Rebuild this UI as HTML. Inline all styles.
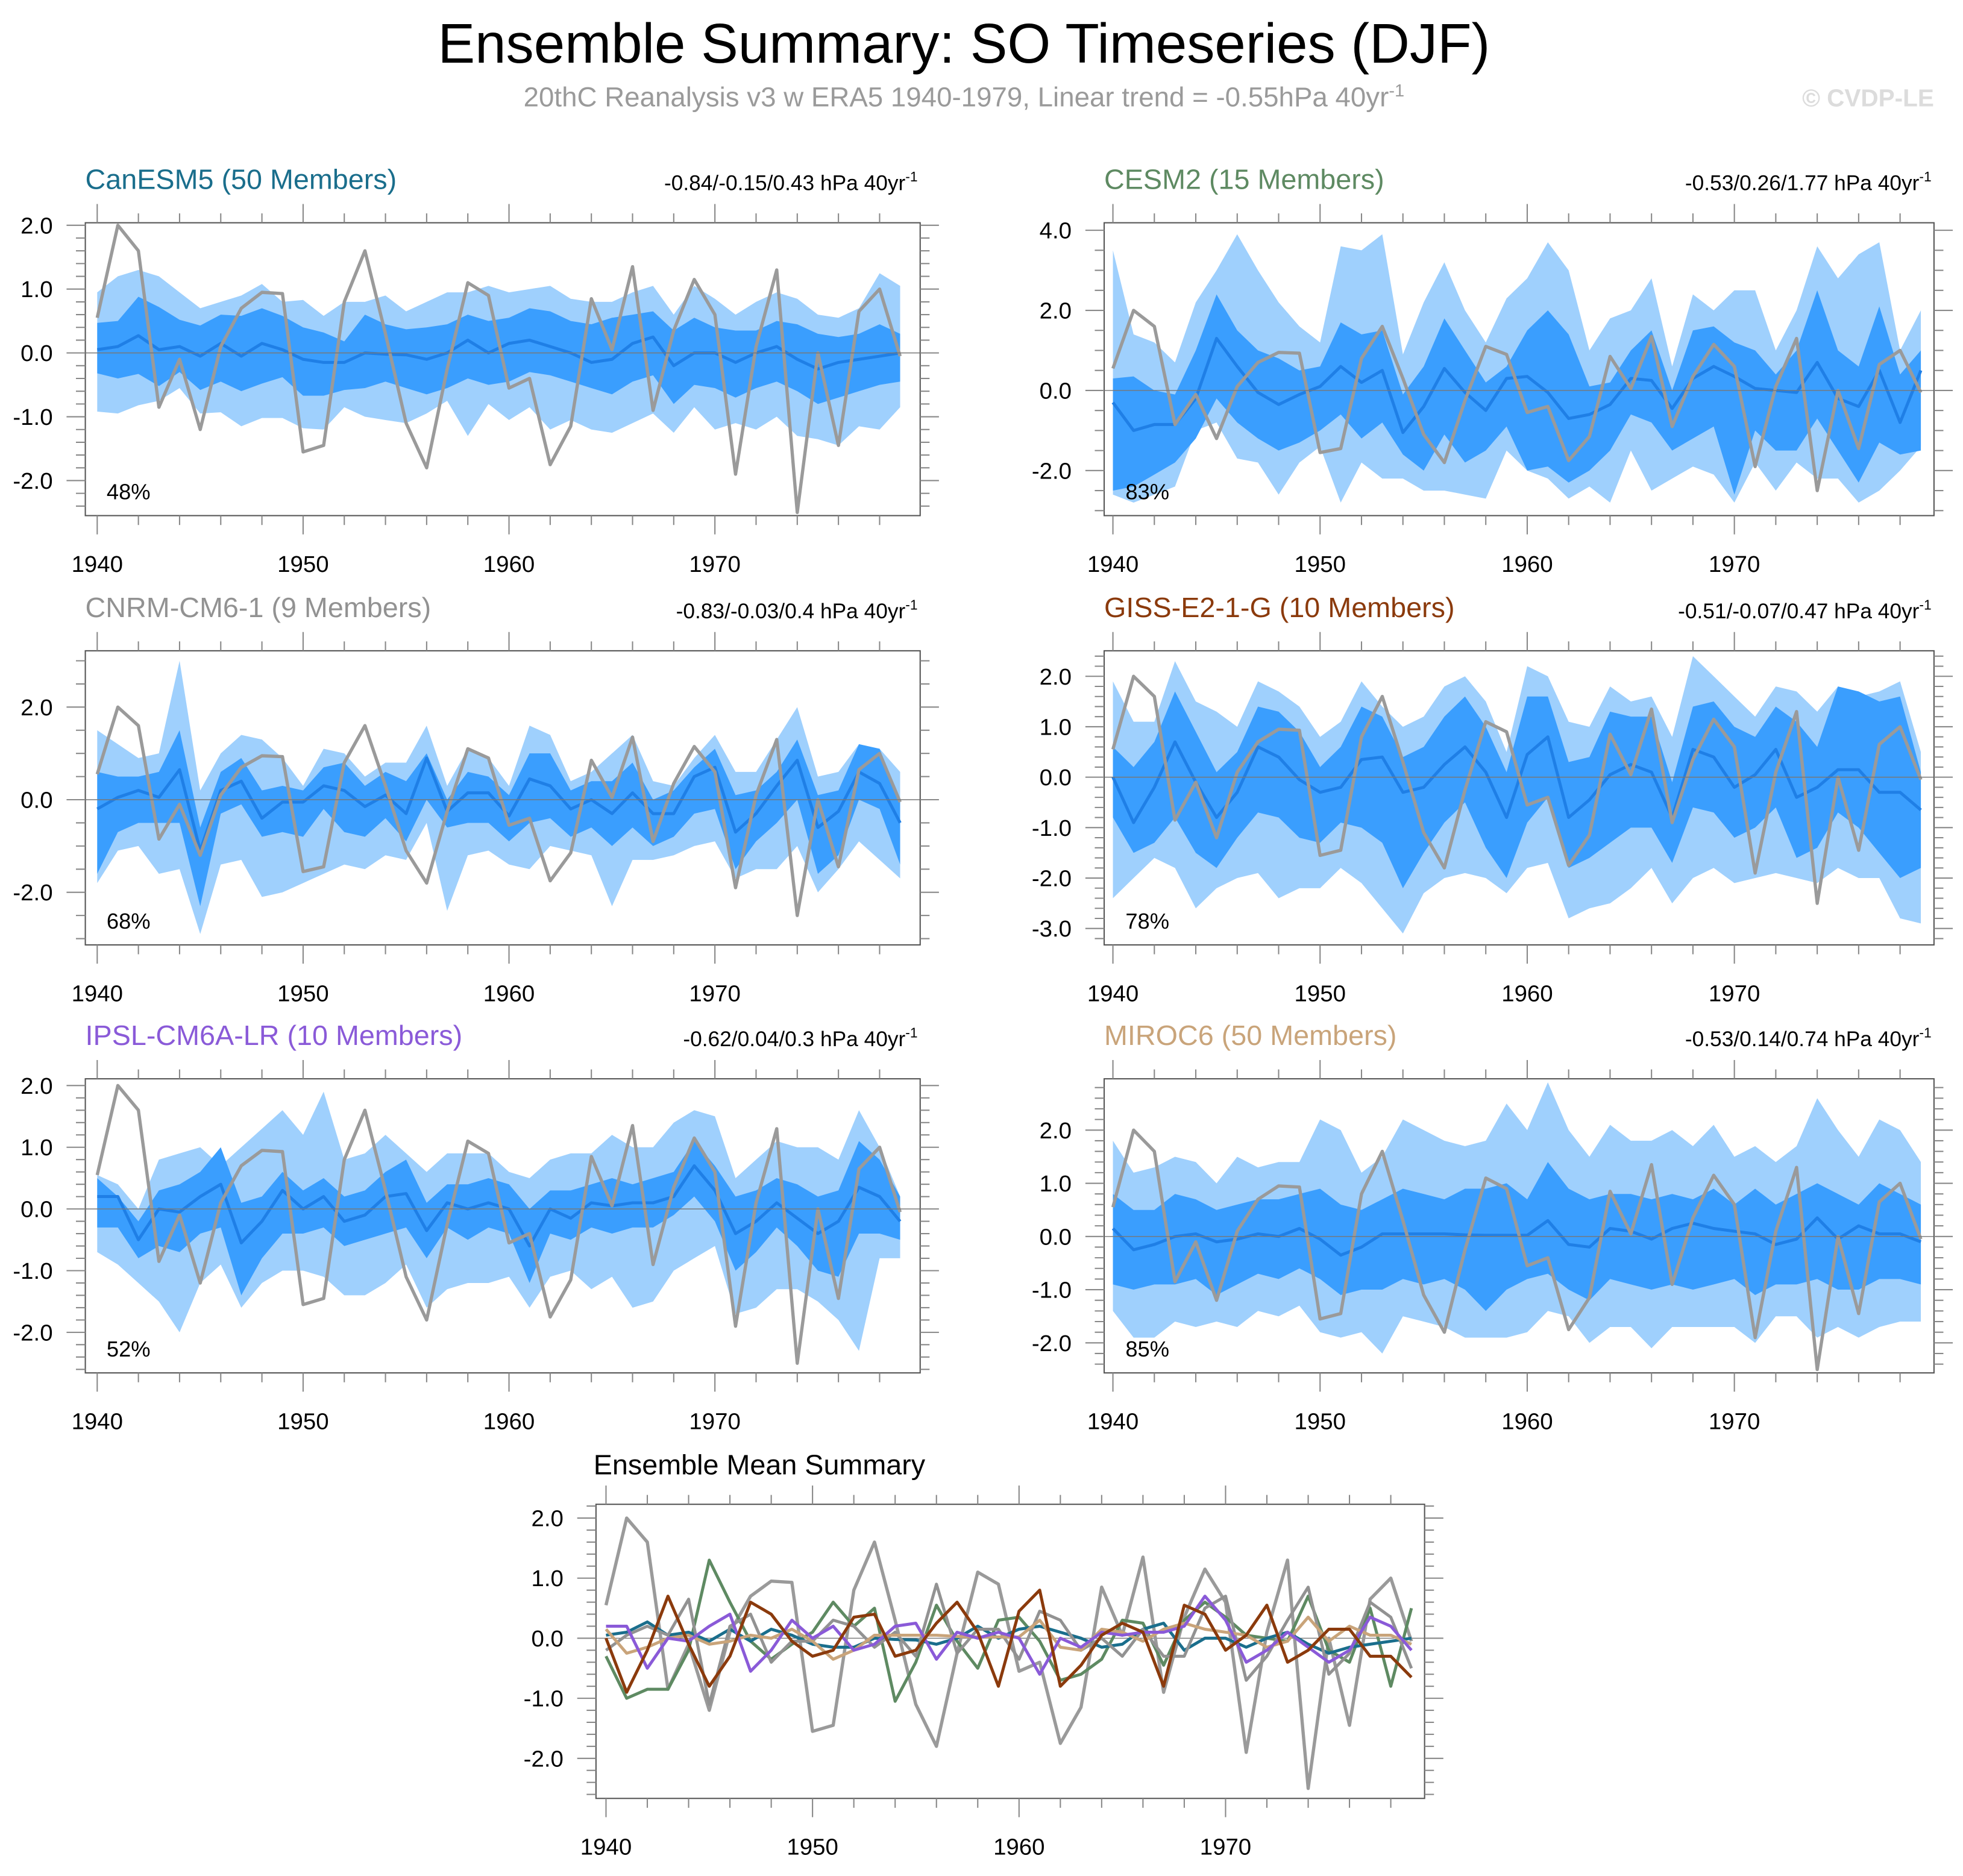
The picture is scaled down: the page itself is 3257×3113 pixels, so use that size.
<!DOCTYPE html>
<html><head><meta charset="utf-8"><style>
html,body{margin:0;padding:0;background:#fff}
svg{display:block}
text{font-family:"Liberation Sans",sans-serif}
</style></head><body>
<svg id="fig" xmlns="http://www.w3.org/2000/svg" width="3257" height="3113" viewBox="0 0 1568 1499">
<text x="770" y="50" font-size="44.5" text-anchor="middle" fill="#000">Ensemble Summary: SO Timeseries (DJF)</text>
<text x="770" y="85" font-size="22" text-anchor="middle" fill="#9a9a9a">20thC Reanalysis v3 w ERA5 1940-1979, Linear trend = -0.55hPa 40yr<tspan dy="-8" font-size="14">-1</tspan></text>
<text x="1545" y="85" font-size="19.5" font-weight="bold" text-anchor="end" fill="#dcdcdc">© CVDP-LE</text>
<g id="plots"></g>
</svg>
<script>
const years = Array.from({length:40},(_,i)=>1940+i);
const obs = [0.55,2.0,1.6,-0.85,-0.1,-1.2,0.1,0.7,0.95,0.93,-1.55,-1.45,0.8,1.6,0.3,-1.1,-1.8,-0.25,1.1,0.9,-0.55,-0.4,-1.75,-1.15,0.85,0.05,1.35,-0.9,0.35,1.15,0.6,-1.9,0.1,1.3,-2.5,0,-1.45,0.65,1.0,-0.05];

const canMean=[0.05,0.1,0.27,0.05,0.1,-0.05,0.15,-0.05,0.15,0.05,-0.1,-0.15,-0.15,0,-0.02,-0.03,-0.1,0,0.2,0,0.15,0.2,0.1,0,-0.15,-0.1,0.15,0.25,-0.2,0,0,-0.15,0,0.1,-0.1,-0.25,-0.15,-0.1,-0.05,0];
const canOutHi=[0.95,1.2,1.3,1.2,0.95,0.7,0.8,0.9,1.08,0.8,0.83,0.58,0.8,0.8,0.9,0.65,0.8,0.95,0.95,1.05,0.95,1.0,1.05,0.85,0.8,0.8,0.95,1.05,0.6,1.05,0.85,0.6,0.8,0.95,0.85,0.6,0.55,0.7,1.25,1.05];
const canOutLo=[-0.92,-0.95,-0.82,-0.75,-0.55,-0.95,-0.93,-1.15,-1.02,-1.02,-1.18,-1.2,-0.85,-1.0,-1.05,-1.1,-0.95,-0.75,-1.3,-0.8,-1.05,-0.85,-1.2,-1.05,-1.2,-1.25,-1.1,-0.95,-1.25,-0.85,-1.2,-1.1,-1.2,-1.0,-1.3,-1.35,-1.45,-1.15,-1.2,-0.85];
const canInHi=[0.47,0.5,0.88,0.72,0.52,0.43,0.6,0.58,0.7,0.58,0.4,0.32,0.18,0.6,0.45,0.37,0.4,0.45,0.6,0.5,0.55,0.7,0.65,0.5,0.45,0.55,0.6,0.65,0.35,0.55,0.4,0.35,0.35,0.5,0.45,0.3,0.25,0.3,0.45,0.3];
const canInLo=[-0.32,-0.4,-0.33,-0.52,-0.3,-0.58,-0.45,-0.6,-0.48,-0.38,-0.67,-0.67,-0.58,-0.55,-0.45,-0.55,-0.65,-0.55,-0.4,-0.5,-0.45,-0.3,-0.35,-0.45,-0.55,-0.65,-0.45,-0.35,-0.8,-0.5,-0.55,-0.7,-0.55,-0.45,-0.6,-0.8,-0.7,-0.6,-0.5,-0.45];

const cesMean=[-0.3,-1.0,-0.85,-0.85,-0.2,1.3,0.6,-0.05,-0.35,-0.1,0.1,0.6,0.2,0.5,-1.05,-0.4,0.55,-0.05,-0.5,0.3,0.35,-0.05,-0.7,-0.6,-0.35,0.3,0.25,-0.45,0.3,0.6,0.35,0.05,0,-0.05,0.7,-0.2,-0.4,0.5,-0.8,0.5];
const cesOutHi=[3.5,1.4,1.2,0.7,2.2,3.0,3.9,3.0,2.2,1.6,1.2,3.6,3.5,3.9,0.9,2.2,3.2,2.0,1.2,2.3,2.8,3.7,3.0,1.0,1.8,2.0,2.8,0.6,2.4,2.0,2.5,2.5,1.0,2.0,3.6,2.8,3.4,3.7,1.0,2.0];
const cesOutLo=[-2.6,-2.8,-2.6,-2.4,-1.0,-0.8,-1.7,-1.8,-2.6,-1.8,-1.4,-2.8,-1.8,-2.2,-2.2,-2.5,-2.5,-2.6,-2.7,-1.5,-2.0,-2.2,-2.7,-2.4,-2.8,-1.5,-2.5,-2.2,-1.9,-2.1,-2.8,-1.8,-2.5,-1.8,-2.2,-2.2,-2.8,-2.5,-2.0,-1.4];
const cesInHi=[0.3,0.35,0.0,-0.1,1.0,2.4,1.5,1.0,0.8,0.5,0.6,1.7,1.4,1.5,-0.1,0.6,1.8,1.0,0.2,0.6,1.5,2.0,1.4,0.1,0.2,1.0,1.5,0.0,1.5,1.6,1.2,1.0,0.4,1.0,2.5,1.0,0.6,2.1,0.4,1.0];
const cesInLo=[-2.5,-2.4,-2.1,-1.8,-1.2,-0.2,-0.8,-1.2,-1.5,-1.3,-1.0,-0.6,-1.2,-0.8,-1.6,-2.0,-1.1,-1.8,-1.5,-0.9,-2.0,-1.9,-2.3,-2.0,-1.5,-0.6,-0.8,-1.5,-1.2,-0.9,-2.6,-1.0,-1.5,-1.5,-0.7,-1.5,-2.3,-1.3,-1.6,-1.5];

const cnrMean=[-0.2,0.05,0.2,0.05,0.65,-1.1,0.2,0.4,-0.4,-0.05,-0.05,0.3,0.2,-0.15,0.1,-0.3,0.9,-0.25,0.15,0.15,-0.35,0.45,0.3,-0.2,0.0,-0.3,0.15,-0.3,-0.3,0.5,0.7,-0.7,-0.3,0.3,0.85,-0.6,-0.25,0.6,0.35,-0.5];
const cnrOutHi=[1.5,1.2,0.9,1.0,3.0,0.2,1.0,1.4,1.3,0.9,0.3,1.1,1.0,0.5,0.8,0.8,1.6,0.3,1.1,0.9,0.3,1.6,1.4,0.4,0.6,1.0,1.4,0.4,0.3,0.9,1.4,0.6,0.6,1.3,2.0,0.5,0.6,1.2,1.1,0.6];
const cnrOutLo=[-1.8,-1.1,-1.0,-1.6,-1.5,-2.9,-1.4,-1.3,-2.1,-2.0,-1.8,-1.6,-1.4,-1.5,-1.2,-1.3,-0.5,-2.4,-1.2,-1.1,-1.4,-1.5,-1.0,-1.1,-1.2,-2.3,-1.3,-1.3,-1.2,-1.0,-0.9,-1.7,-1.5,-1.5,-1.0,-2.0,-1.5,-0.9,-1.3,-1.7];
const cnrInHi=[0.6,0.5,0.5,0.6,1.5,-0.6,0.6,0.9,0.2,0.3,0.2,0.7,0.8,0.3,0.6,0.4,1.0,0.0,0.6,0.5,0.1,1.0,1.0,0.2,0.4,0.4,0.8,0.0,0.2,0.7,1.1,0.1,0.2,0.6,1.3,0.1,0.2,1.2,1.1,0.0];
const cnrInLo=[-1.6,-0.7,-0.5,-0.5,-0.5,-2.3,-0.3,-0.1,-0.8,-0.7,-0.8,-0.2,-0.7,-0.8,-0.4,-0.9,0.0,-0.6,-0.5,-0.5,-0.9,-0.5,-0.4,-0.8,-0.6,-1.0,-0.6,-1.0,-0.8,-0.3,-0.2,-1.5,-0.9,-0.5,0.0,-1.6,-1.2,0.0,-0.2,-1.4];

const gisMean=[0,-0.9,-0.2,0.7,-0.1,-0.8,-0.3,0.6,0.4,-0.05,-0.3,-0.2,0.35,0.4,-0.3,-0.2,0.25,0.6,0.1,-0.8,0.45,0.8,-0.8,-0.45,0.05,0.25,0.1,-0.8,0.55,0.4,-0.2,0.05,0.55,-0.4,-0.2,0.15,0.15,-0.3,-0.3,-0.65];
const gisOutHi=[1.9,1.1,1.1,2.3,1.5,1.3,1.0,1.9,1.7,1.4,0.8,1.1,1.9,1.4,1.0,1.2,1.8,2.0,1.5,0.5,2.2,2.0,1.1,1.0,1.8,1.5,1.6,0.8,2.4,2.0,1.6,1.2,1.8,1.7,1.3,1.8,1.6,1.7,1.9,0.5];
const gisOutLo=[-2.4,-2.0,-1.6,-1.8,-2.6,-2.2,-2.0,-1.9,-2.4,-2.2,-2.2,-1.8,-2.1,-2.6,-3.1,-2.3,-2.0,-1.9,-2.0,-2.3,-1.8,-1.7,-2.8,-2.6,-2.5,-2.2,-1.8,-2.5,-2.0,-1.8,-2.1,-2.0,-1.9,-2.0,-2.1,-1.8,-2.0,-2.0,-2.8,-2.9];
const gisInHi=[0.6,0.2,0.7,1.7,0.9,0.1,0.5,1.4,1.3,0.9,0.2,0.6,1.4,1.2,0.4,0.6,1.2,1.6,1.0,0.1,1.6,1.6,0.3,0.4,1.3,1.2,1.2,-0.1,1.4,1.5,1.0,0.8,1.4,1.1,0.6,1.8,1.7,1.5,1.6,0.1];
const gisInLo=[-0.8,-1.5,-1.3,-0.8,-1.5,-1.8,-1.2,-0.7,-0.8,-1.2,-1.3,-0.9,-1.0,-1.3,-2.2,-1.5,-0.9,-0.5,-1.4,-2.0,-0.9,-0.4,-1.8,-1.6,-1.3,-1.0,-1.0,-1.7,-0.6,-0.7,-1.2,-1.0,-0.6,-1.6,-1.4,-0.7,-1.0,-1.5,-2.0,-1.8];

const ipsMean=[0.2,0.2,-0.5,0.0,-0.05,0.2,0.4,-0.55,-0.2,0.3,0.0,0.2,-0.2,-0.1,0.2,0.25,-0.35,0.1,0.0,0.1,0.0,-0.6,0.0,-0.15,0.1,0.05,0.1,0.1,0.2,0.7,0.3,-0.4,-0.2,0.1,-0.15,-0.4,-0.2,0.35,0.2,-0.2];
const ipsOutHi=[0.55,0.4,0.0,0.8,0.9,1.0,0.7,1.0,1.3,1.6,1.2,1.9,0.8,0.9,1.2,0.9,0.6,0.9,0.9,0.9,0.6,0.5,0.8,0.9,0.9,1.2,1.0,1.0,1.4,1.6,1.5,0.5,0.8,1.1,1.0,1.0,0.8,1.6,1.0,0.2];
const ipsOutLo=[-0.7,-0.9,-1.2,-1.5,-2.0,-1.2,-0.9,-1.6,-1.2,-1.0,-1.0,-1.1,-1.4,-1.4,-1.2,-0.9,-1.6,-1.3,-1.2,-1.2,-1.1,-1.6,-1.1,-1.0,-1.3,-1.1,-1.6,-1.5,-1.0,-0.8,-0.6,-1.7,-1.6,-1.3,-1.3,-1.5,-1.8,-2.3,-0.8,-0.8];
const ipsInHi=[0.5,0.2,-0.2,0.3,0.4,0.6,1.0,0.1,0.2,0.6,0.3,0.5,0.2,0.3,0.6,0.8,0.1,0.4,0.4,0.5,0.4,0.0,0.3,0.3,0.4,0.5,0.4,0.5,0.6,1.1,0.7,0.2,0.3,0.5,0.4,0.2,0.3,1.1,0.8,0.2];
const ipsInLo=[-0.3,-0.3,-0.8,-0.6,-0.7,-0.4,-0.3,-1.4,-0.8,-0.4,-0.4,-0.3,-0.6,-0.5,-0.4,-0.3,-0.8,-0.3,-0.5,-0.3,-0.4,-1.2,-0.4,-0.5,-0.3,-0.4,-0.3,-0.3,-0.1,0.2,-0.2,-1.0,-0.7,-0.3,-0.6,-1.0,-1.1,-0.4,-0.4,-0.5];

const mirMean=[0.15,-0.25,-0.15,0.0,0.05,-0.1,-0.05,0.05,0.0,0.15,-0.05,-0.35,-0.2,0.05,0.05,0.05,0.05,0.03,0.02,0.02,0.02,0.3,-0.15,-0.2,0.15,0.1,-0.05,0.15,0.25,0.15,0.1,0.05,-0.15,-0.05,0.35,-0.05,0.2,0.05,0.05,-0.1];
const mirOutHi=[1.8,1.2,1.3,1.5,1.4,1.0,1.5,1.3,1.4,1.4,2.2,2.0,1.2,1.5,2.2,2.0,1.8,1.7,1.8,2.5,2.0,2.9,2.0,1.5,2.1,1.8,1.8,2.0,1.7,2.1,1.5,1.7,1.4,1.7,2.6,2.0,1.5,2.2,2.0,1.4];
const mirOutLo=[-1.4,-1.9,-1.9,-1.6,-1.7,-1.6,-1.7,-1.4,-1.5,-1.3,-1.8,-1.9,-1.8,-2.2,-1.5,-1.6,-1.7,-1.9,-1.9,-1.9,-1.8,-1.4,-1.5,-2.0,-1.7,-1.7,-2.1,-1.7,-1.7,-1.7,-1.7,-2.0,-1.5,-1.5,-1.9,-1.7,-1.9,-1.7,-1.6,-1.6];
const mirInHi=[0.8,0.5,0.5,0.8,0.7,0.5,0.6,0.7,0.7,0.8,0.9,0.6,0.5,0.7,0.9,0.8,0.7,0.9,0.9,1.0,0.7,1.4,0.9,0.7,0.8,0.8,0.7,0.8,0.7,0.9,0.6,0.9,0.6,0.8,1.0,0.8,0.6,1.0,0.8,0.6];
const mirInLo=[-0.9,-1.0,-0.9,-0.9,-0.8,-1.1,-0.9,-0.7,-0.8,-0.6,-0.8,-1.1,-1.0,-1.0,-0.8,-0.9,-0.8,-1.0,-1.4,-1.0,-0.8,-0.7,-1.0,-1.2,-0.8,-0.9,-1.0,-0.9,-1.0,-0.9,-0.8,-1.1,-0.9,-0.9,-0.8,-1.0,-1.0,-0.8,-0.8,-0.9];

const modelNames=["CanESM5 (50 Members)","CESM2 (15 Members)","CNRM-CM6-1 (9 Members)","GISS-E2-1-G (10 Members)","IPSL-CM6A-LR (10 Members)","MIROC6 (50 Members)"];
const modelTrends=["-0.84/-0.15/0.43","-0.53/0.26/1.77","-0.83/-0.03/0.4","-0.51/-0.07/0.47","-0.62/0.04/0.3","-0.53/0.14/0.74"];
const modelPct=["48%","83%","68%","78%","52%","85%"];
const yTickLabels=[["-2.0","-1.0","0.0","1.0","2.0"],["-2.0","0.0","2.0","4.0"],["-2.0","0.0","2.0"],["-3.0","-2.0","-1.0","0.0","1.0","2.0"],["-2.0","-1.0","0.0","1.0","2.0"],["-2.0","-1.0","0.0","1.0","2.0"]];
const xTickLabels=["1940","1950","1960","1970"];
const meanSummaryTicks=["-2.0","-1.0","0.0","1.0","2.0"];

const modelData=[
 {mean:canMean,oh:canOutHi,ol:canOutLo,ih:canInHi,il:canInLo},
 {mean:cesMean,oh:cesOutHi,ol:cesOutLo,ih:cesInHi,il:cesInLo},
 {mean:cnrMean,oh:cnrOutHi,ol:cnrOutLo,ih:cnrInHi,il:cnrInLo},
 {mean:gisMean,oh:gisOutHi,ol:gisOutLo,ih:gisInHi,il:gisInLo},
 {mean:ipsMean,oh:ipsOutHi,ol:ipsOutLo,ih:ipsInHi,il:ipsInLo},
 {mean:mirMean,oh:mirOutHi,ol:mirOutLo,ih:mirInHi,il:mirInLo}];
const colors=["#1a6e8c","#5e8a62","#929292","#8b3a0c","#8a5ad8","#c9a47a"];
const layout=[
 {L:68,R:735,T:178,B:412,x0:77.5,dx:16.45,y0:282,k:51,minor:0.2},
 {L:882,R:1545,T:178,B:412,x0:889,dx:16.55,y0:312,k:32,minor:0.5},
 {L:68,R:735,T:520,B:755,x0:77.5,dx:16.45,y0:639,k:37,minor:0.5},
 {L:882,R:1545,T:520,B:755,x0:889,dx:16.55,y0:621,k:40.3,minor:0.2},
 {L:68,R:735,T:862,B:1097,x0:77.5,dx:16.45,y0:966,k:49.3,minor:0.2},
 {L:882,R:1545,T:862,B:1097,x0:889,dx:16.55,y0:988,k:42.5,minor:0.2}];
const NS="http://www.w3.org/2000/svg";
const root=document.getElementById('plots');
function mk(tag,attrs,parent){const e=document.createElementNS(NS,tag);for(const a in attrs)e.setAttribute(a,attrs[a]);(parent||root).appendChild(e);return e;}

function axes(g,P,idx){
  const xs=y=>P.x0+(y-1940)*P.dx, ys=v=>P.y0-v*P.k;
  const cp=mk('clipPath',{id:'clip'+idx},g);mk('rect',{x:P.L,y:P.T,width:P.R-P.L,height:P.B-P.T},cp);
  return {xs,ys};
}
function frame(g,P,xs,ys,yLabels,labelX){
  mk('line',{x1:P.L,x2:P.R,y1:ys(0),y2:ys(0),stroke:'#777','stroke-width':0.7},g);
  const box=mk('rect',{x:P.L,y:P.T,width:P.R-P.L,height:P.B-P.T,fill:'none',stroke:'#555','stroke-width':1},g);
  
  for(let y=1940;y<=1979;y+=2){const X=xs(y);const maj=(y%10===0);const len=maj?15:7.5;
    mk('line',{x1:X,x2:X,y1:P.B,y2:P.B+len,stroke:'#888','stroke-width':1},g);
    mk('line',{x1:X,x2:X,y1:P.T,y2:P.T-len,stroke:'#888','stroke-width':1},g);}
  xTickLabels.forEach(t=>{const tx=mk('text',{x:xs(+t),y:P.B+45,'font-size':18.5,'text-anchor':'middle'},g);tx.textContent=t;
    });
  const vmax=(P.y0-P.T)/P.k, vmin=(P.y0-P.B)/P.k;
  const st=P.minor;
  for(let v=Math.ceil(vmin/st)*st; v<=vmax+1e-6; v+=st){const Y=ys(v);const maj=yLabels.some(l=>Math.abs(+l-v)<1e-6);const len=maj?15:7.5;
    mk('line',{x1:P.L,x2:P.L-len,y1:Y,y2:Y,stroke:'#888','stroke-width':1},g);
    mk('line',{x1:P.R,x2:P.R+len,y1:Y,y2:Y,stroke:'#888','stroke-width':1},g);}
  yLabels.forEach(t=>{const tx=mk('text',{x:labelX,y:ys(+t)+6.5,'font-size':18.5,'text-anchor':'end'},g);tx.textContent=t;
    });
}
function linePts(arr,xs,ys){return arr.map((v,i)=>xs(years[i]).toFixed(1)+','+ys(v).toFixed(1)).join(' ');}
function band(hi,lo,xs,ys){return hi.map((v,i)=>xs(years[i]).toFixed(1)+','+ys(v).toFixed(1)).concat(lo.map((v,i)=>[i,v]).reverse().map(([i,v])=>xs(years[i]).toFixed(1)+','+ys(v).toFixed(1))).join(' ');}

layout.forEach((P,i)=>{
  const g=mk('g',{});
  
  
  const {xs,ys}=axes(g,P,i);
  const D=modelData[i];
  const pg=mk('g',{'clip-path':'url(#clip'+i+')'},g);
  const ob=mk('polygon',{points:band(D.oh,D.ol,xs,ys),fill:'#9fd0fd'},pg);
  
  const ib=mk('polygon',{points:band(D.ih,D.il,xs,ys),fill:'#3a9efe'},pg);
  
  frame(g,P,xs,ys,yTickLabels[i],P.L-26);
  const ml=mk('polyline',{points:linePts(D.mean,xs,ys),fill:'none',stroke:'#1f7fe6','stroke-width':2.4,'stroke-linejoin':'round'},pg);
  
  const ol=mk('polyline',{points:linePts(obs,xs,ys),fill:'none',stroke:'#9a9a9a','stroke-width':2.6,'stroke-linejoin':'round'},pg);
  
  const t=mk('text',{x:P.L,y:P.T-27,'font-size':22.5,fill:colors[i]},g);t.textContent=modelNames[i];
  
  const tr=mk('text',{x:P.R-2,y:P.T-26,'font-size':17,'text-anchor':'end'},g);tr.textContent=modelTrends[i]+' hPa 40yr';
  const sup=mk('tspan',{dy:-7,'font-size':11},tr);sup.textContent='-1';
  
  const pc=mk('text',{x:P.L+17,y:P.B-13,'font-size':17.5},g);pc.textContent=modelPct[i];
  
});

const S={L:476,R:1138,T:1202,B:1437,x0:484,dx:16.5,y0:1309,k:48,minor:0.2};
const sg=mk('g',{});


const sa=axes(sg,S,6);
frame(sg,S,sa.xs,sa.ys,meanSummaryTicks,S.L-26);
const spg=mk('g',{'clip-path':'url(#clip6)'},sg);
const so=mk('polyline',{points:linePts(obs,sa.xs,sa.ys),fill:'none',stroke:'#9a9a9a','stroke-width':2.6,'stroke-linejoin':'round'},spg);

[1,0,2,5,4,3].forEach(i=>{
  const l=mk('polyline',{points:linePts(modelData[i].mean,sa.xs,sa.ys),fill:'none',stroke:colors[i],'stroke-width':2.4,'stroke-linejoin':'round'},spg);
  
});
const st=mk('text',{x:474,y:1178,'font-size':22.5},sg);st.textContent='Ensemble Mean Summary';

</script>
</body></html>
